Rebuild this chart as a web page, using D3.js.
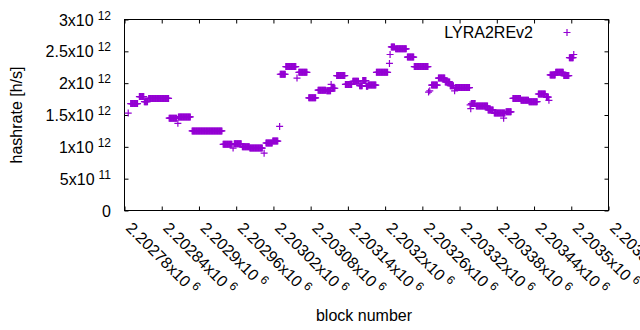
<!DOCTYPE html>
<html>
<head>
<meta charset="utf-8">
<script src="https://cdn.jsdelivr.net/npm/d3@7"></script>
<style>
  body { margin: 0; background: #fff; }
  text { font-family: "Liberation Sans", Arial, sans-serif; fill: #000; }
</style>
</head>
<body>
<script>
// block ranges that share one hashrate value
var runStart = [2202786, 2202790, 2202804, 2202812, 2202819, 2202852, 2202866, 2202867, 2202889, 2202939,
                2202955, 2202957, 2202970, 2202982, 2203005, 2203008, 2203019, 2203030, 2203031, 2203040,
                2203058, 2203061, 2203077, 2203092, 2203106, 2203113, 2203114, 2203122, 2203136, 2203148,
                2203159, 2203164, 2203170, 2203173, 2203186, 2203207, 2203208, 2203210, 2203217, 2203236,
                2203247, 2203270, 2203272, 2203275, 2203286, 2203297, 2203305, 2203312, 2203313, 2203337,
                2203338, 2203339, 2203347, 2203366, 2203376, 2203391, 2203395, 2203406, 2203419, 2203432,
                2203447, 2203460, 2203464, 2203466, 2203475, 2203488, 2203497, 2203504];
var runEnd   = [2202786, 2202801, 2202811, 2202817, 2202851, 2202864, 2202866, 2202886, 2202937, 2202953,
                2202955, 2202968, 2202981, 2203002, 2203005, 2203018, 2203027, 2203030, 2203039, 2203056,
                2203058, 2203074, 2203088, 2203104, 2203112, 2203113, 2203119, 2203135, 2203146, 2203157,
                2203163, 2203169, 2203172, 2203185, 2203204, 2203207, 2203208, 2203215, 2203234, 2203246,
                2203269, 2203270, 2203272, 2203284, 2203296, 2203304, 2203310, 2203312, 2203336, 2203337,
                2203338, 2203345, 2203365, 2203374, 2203393, 2203391, 2203403, 2203418, 2203431, 2203445,
                2203458, 2203463, 2203464, 2203474, 2203487, 2203496, 2203503, 2203504];
var runValue = [1.53e12, 1.68e12, 1.79e12, 1.71e12, 1.76e12, 1.45e12, 1.37e12, 1.47e12, 1.25e12, 1.04e12,
                0.98e12, 1.05e12, 1.00e12, 0.98e12, 0.90e12, 1.06e12, 1.09e12, 1.32e12, 2.14e12, 2.26e12,
                2.08e12, 2.17e12, 1.77e12, 1.89e12, 1.88e12, 1.98e12, 1.92e12, 2.12e12, 1.98e12, 2.03e12,
                1.96e12, 2.04e12, 1.95e12, 1.97e12, 2.17e12, 2.31e12, 2.45e12, 2.57e12, 2.54e12, 2.41e12,
                2.26e12, 1.86e12, 1.88e12, 1.97e12, 2.08e12, 2.02e12, 1.96e12, 1.88e12, 1.93e12, 1.66e12,
                1.60e12, 1.68e12, 1.64e12, 1.58e12, 1.53e12, 1.45e12, 1.55e12, 1.76e12, 1.73e12, 1.71e12,
                1.83e12, 1.78e12, 1.73e12, 2.13e12, 2.17e12, 2.12e12, 2.40e12, 2.45e12];

var xTickValues = [2202780, 2202840, 2202900, 2202960, 2203020, 2203080, 2203140,
                   2203200, 2203260, 2203320, 2203380, 2203440, 2203500, 2203560];
var xTickLabels = ["2.20278", "2.20284", "2.2029", "2.20296", "2.20302", "2.20308", "2.20314",
                   "2.2032", "2.20326", "2.20332", "2.20338", "2.20344", "2.2035", "2.20356"];
var yTickValues = [0, 5e11, 1e12, 1.5e12, 2e12, 2.5e12, 3e12];
var yTickLabels = ["0", "5x10", "1x10", "1.5x10", "2x10", "2.5x10", "3x10"];
var yTickExps   = ["", "11", "12", "12", "12", "12", "12"];

var seriesName = "LYRA2REv2";
var color = "#9400d3";

var W = 640, H = 330;
var plot = {left: 124.5, right: 608.5, top: 19.5, bottom: 210.5};

// one point per block inside each run
var points = [];
runStart.forEach(function(s, i) {
  for (var b = s; b <= runEnd[i]; b++) points.push({block: b, rate: runValue[i]});
});

var x = d3.scaleLinear().domain([2202780, 2203560]).range([plot.left, plot.right]);
var y = d3.scaleLinear().domain([0, 3e12]).range([plot.bottom, plot.top]);

var svg = d3.select("body").append("svg")
  .attr("width", W).attr("height", H);

// tics on all four sides, pointing inwards
function tics(axis, tr) {
  var g = svg.append("g").attr("transform", tr).call(axis);
  g.select(".domain").remove();
  g.selectAll("line").attr("stroke", "#000");
  g.selectAll("text").remove();
}
tics(d3.axisBottom(x).tickValues(xTickValues).tickSize(-4), "translate(0," + plot.bottom + ")");
tics(d3.axisTop(x).tickValues(xTickValues).tickSize(-4), "translate(0," + plot.top + ")");
tics(d3.axisLeft(y).tickValues(yTickValues).tickSize(-4), "translate(" + plot.left + ",0)");
tics(d3.axisRight(y).tickValues(yTickValues).tickSize(-4), "translate(" + plot.right + ",0)");

svg.append("rect")
  .attr("x", plot.left).attr("y", plot.top)
  .attr("width", plot.right - plot.left).attr("height", plot.bottom - plot.top)
  .attr("fill", "none").attr("stroke", "#000").attr("stroke-width", 1);

// y tick labels
var yl = svg.append("g").selectAll("text")
  .data(yTickValues).enter().append("text")
  .attr("x", 111)
  .attr("y", function(d) { return Math.round(y(d)) + 6; })
  .attr("text-anchor", "end")
  .style("font-size", "16px")
  .text(function(d, i) { return yTickLabels[i]; });
yl.filter(function(d, i) { return yTickExps[i] !== ""; })
  .append("tspan")
  .attr("dx", 4).attr("dy", -6)
  .style("font-size", "12px")
  .text(function(d) { return yTickExps[yTickValues.indexOf(d)]; });

// x tick labels, rotated
var xl = svg.append("g").selectAll("text")
  .data(xTickValues).enter().append("text")
  .attr("transform", function(d) { return "translate(" + (x(d) + 0.5) + ",229) rotate(45)"; })
  .style("font-size", "16px")
  .text(function(d, i) { return xTickLabels[i] + "x10"; });
xl.append("tspan")
  .attr("dx", 4).attr("dy", -6)
  .style("font-size", "12px")
  .text("6");

// axis titles
svg.append("text")
  .attr("transform", "translate(22,115) rotate(-90)")
  .attr("text-anchor", "middle")
  .style("font-size", "16px")
  .text("hashrate [h/s]");
svg.append("text")
  .attr("x", 364).attr("y", 321)
  .attr("text-anchor", "middle")
  .style("font-size", "16px")
  .text("block number");

var plus = "M-3.5,0H3.5M0,-3.5V3.5";

// the points
svg.append("g").selectAll("path")
  .data(points).enter().append("path")
  .attr("transform", function(d) { return "translate(" + x(d.block) + "," + y(d.rate) + ")"; })
  .attr("d", plus)
  .attr("fill", "none")
  .attr("stroke", color)
  .attr("stroke-width", 1.2);

// key
svg.append("text")
  .attr("x", 533).attr("y", 37.5)
  .attr("text-anchor", "end")
  .style("font-size", "16px")
  .text(seriesName);
svg.append("path")
  .attr("transform", "translate(567,32.5)")
  .attr("d", plus)
  .attr("fill", "none")
  .attr("stroke", color)
  .attr("stroke-width", 1.2);
</script>
</body>
</html>
